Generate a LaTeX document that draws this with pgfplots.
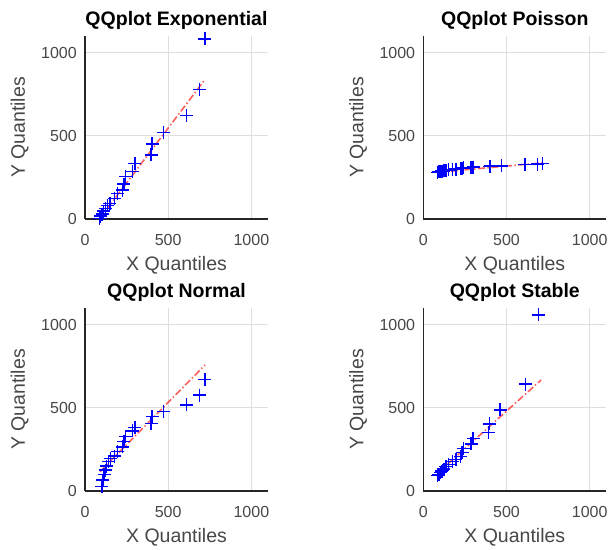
\documentclass[border=0pt]{standalone}
\usepackage{fontspec}
\setmainfont{Liberation Sans}
\usepackage{pgfplots}
\usepackage{pgfplotstable}
\pgfplotsset{compat=1.18}

\definecolor{axisgray}{RGB}{38,38,38}
\definecolor{gridgray}{RGB}{222,222,222}
\definecolor{fitred}{RGB}{255,40,40}

% sample quantiles (x) against reference quantiles (y)
\pgfplotstableread{
x    y
86   4
94   18
103  30
111  48
124  62
136  80
150  94
176  124
196  154
225  174
234  210
243  254
287  285
300  335
397  385
404  451
471  521
611  621
687  779
720  1082
}\expdata

\pgfplotstableread{
x    y
86   280
94   283
103  285
111  288
124  290
136  292
150  295
176  298
196  300
225  303
234  305
243  308
287  310
300  312
397  315
404  318
471  320
611  328
687  330
716  333
}\poisdata

\pgfplotstableread{
x    y
102  26
108  66
115  100
122  126
130  150
140  176
152  195
176  210
196  236
225  266
234  297
243  327
287  361
300  381
397  407
404  447
471  477
611  517
687  577
720  671
}\normdata

\pgfplotstableread{
x    y
86   92
94   100
103  110
111  120
124  132
136  146
150  160
176  176
196  190
225  206
234  230
243  256
287  283
300  317
392  351
398  403
462  487
614  643
692  1058
}\stabdata

\pgfplotsset{
  qqpanel/.style={
    scale only axis, width=183bp, height=183bp,
    xmin=0, xmax=1100, ymin=0, ymax=1100,
    xtick={0,500,1000}, ytick={0,500,1000},
    major tick length=0pt,
    grid=major,
    major grid style={gridgray, line width=0.8bp},
    axis x line=bottom, axis y line=left,
    axis line style={axisgray, line width=1.3bp, -},
    tick label style={font=\fontsize{16bp}{18bp}\selectfont, text=axisgray!85},
    /pgf/number format/assume math mode=true,
    /pgf/number format/1000 sep={},
    xticklabel style={anchor=base, yshift=-26bp, inner sep=0pt},
    yticklabel style={anchor=east, xshift=-8bp, inner sep=0pt},
    xlabel={X Quantiles}, ylabel={Y Quantiles},
    every axis x label/.style={at={(axis description cs:0.5,-0.2787)}, anchor=base,
      font=\fontsize{19.5bp}{22bp}\selectfont, text=axisgray!85, inner sep=0pt},
    every axis y label/.style={at={(axis description cs:-0.328,0.5)}, rotate=90, anchor=base,
      font=\fontsize{19.5bp}{22bp}\selectfont, text=axisgray!85, inner sep=0pt},
    every axis title/.style={at={(axis description cs:0.5,1.06)}, anchor=base,
      font=\fontsize{19.5bp}{22bp}\selectfont\bfseries, text=black, inner sep=0pt},
    clip=false,
  },
  qqmarks/.style={only marks, mark=+, mark size=6.5bp, color=blue,
    mark options={line width=1.5bp}},
  qqline/.style={no marks, fitred, opacity=0.75, line width=1.6bp,
    dash pattern=on 7bp off 2.5bp on 1.5bp off 2.5bp},
}

\begin{document}
\begin{tikzpicture}
\useasboundingbox (0,0) rectangle (610bp,-550bp);

\begin{axis}[qqpanel, at={(85bp,-219bp)}, anchor=south west, title={QQplot Exponential}]
  \addplot[qqline] coordinates {(86,0) (722,840)};
  \addplot[qqmarks] table[x=x, y=y] {\expdata};
\end{axis}

\begin{axis}[qqpanel, at={(423.3bp,-219bp)}, anchor=south west, title={QQplot Poisson}]
  \addplot[qqline] coordinates {(86,281) (722,338)};
  \addplot[qqmarks] table[x=x, y=y] {\poisdata};
\end{axis}

\begin{axis}[qqpanel, at={(85bp,-491bp)}, anchor=south west, title={QQplot Normal}]
  \addplot[qqline] coordinates {(90,116) (722,758)};
  \addplot[qqmarks] table[x=x, y=y] {\normdata};
\end{axis}

\begin{axis}[qqpanel, at={(423.3bp,-491bp)}, anchor=south west, title={QQplot Stable}]
  \addplot[qqline] coordinates {(86,108) (708,667)};
  \addplot[qqmarks] table[x=x, y=y] {\stabdata};
\end{axis}
\end{tikzpicture}
\end{document}
